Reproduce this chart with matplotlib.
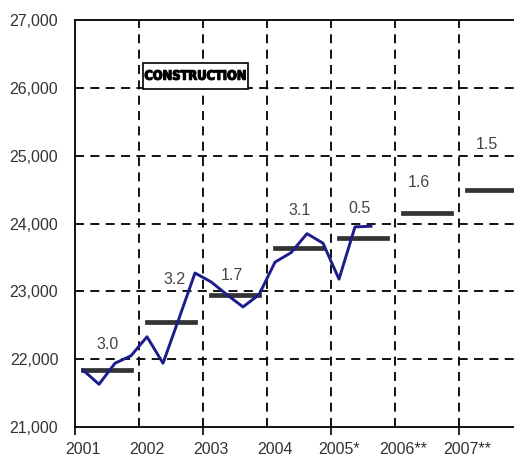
import matplotlib
matplotlib.use("Agg")
import matplotlib.pyplot as plt
import matplotlib.patheffects as pe
from matplotlib.patches import Rectangle
import numpy as np

# Quarterly series, 2001Q1 .. 2005Q3
quarter_values = [21840, 21630, 21940, 22050,
                  22330, 21940, 22600, 23270,
                  23140, 22950, 22770, 22950,
                  23430, 23570, 23850, 23710,
                  23180, 23950, 23960]

# Annual averages and growth rates (%)
years = ["2001", "2002", "2003", "2004", "2005*", "2006**", "2007**"]
annual_values = [21840, 22550, 22950, 23640, 23780, 24160, 24490]
growth = [3.0, 3.2, 1.7, 3.1, 0.5, 1.6, 1.5]
# label anchor (quarter position, value) for each growth figure
growth_pos = [(2.06, 22210), (6.25, 23180), (9.8, 23240), (14.06, 24190),
              (17.8, 24215), (21.5, 24600), (25.75, 25160)]

Q_PER_YEAR = 4
TXT = "#333333"

plt.rcParams["font.family"] = ["Liberation Sans", "DejaVu Sans"]

fig = plt.figure(figsize=(5.14, 4.61), dpi=100)
ax = fig.add_axes([75 / 514, 34 / 461, 439 / 514, 407 / 461])

n_years = len(years)
xlim_right = 439 / 16

# year boundaries as dashed verticals, value grid as dashed horizontals
for k in range(1, n_years):
    ax.axvline(k * Q_PER_YEAR, color="black", lw=1.3, ls=(0, (5, 3.5)), zorder=1)
for v in range(22000, 27000, 1000):
    ax.axhline(v, color="black", lw=1.3, ls=(0, (5, 3.5)), zorder=1)

# annual average bars
for i, val in enumerate(annual_values):
    x0 = i * Q_PER_YEAR + 0.5
    x1 = i * Q_PER_YEAR + Q_PER_YEAR - 0.5
    ax.plot([x0, x1], [val, val], color="#333333", lw=3.4,
            solid_capstyle="projecting", zorder=2)

# quarterly line
qx = np.arange(len(quarter_values)) + 0.5
ax.plot(qx, quarter_values, color="#1c1c8a", lw=2.1, zorder=3)

for g, (gx, gy) in zip(growth, growth_pos):
    ax.text(gx, gy, f"{g:.1f}", ha="center", va="center",
            fontsize=11.5, color="#444444", zorder=4)

# sector title box
ax.add_patch(Rectangle((0.155, 0.830), 0.239, 0.064, transform=ax.transAxes,
                       fc="white", ec="black", lw=1.2, zorder=5))
ax.text(0.155 + 0.239 / 2, 0.830 + 0.064 / 2, "CONSTRUCTION",
        transform=ax.transAxes, ha="center", va="center",
        fontsize=9.2, fontweight="heavy", fontstretch="condensed",
        color="black", family=["DejaVu Sans"], zorder=6,
        path_effects=[pe.withStroke(linewidth=0.9, foreground="black")])

ax.set_xlim(0, xlim_right)
ax.set_ylim(21000, 27000)

ax.set_yticks(range(21000, 27001, 1000))
ax.set_yticklabels([f"{v:,}" for v in range(21000, 27001, 1000)])
ax.tick_params(axis="y", length=0, pad=12, labelsize=11.5, labelcolor=TXT)

ax.set_xticks(np.arange(0, n_years * Q_PER_YEAR, 2 * Q_PER_YEAR))
ax.set_xticklabels([])
ax.tick_params(axis="x", which="major", length=6, width=1.2, direction="out")
ax.set_xticks(np.arange(n_years) * Q_PER_YEAR + 0.5, minor=True)
ax.set_xticklabels(years, minor=True)
ax.tick_params(axis="x", which="minor", length=0, pad=11, labelsize=11.5,
               labelcolor=TXT)

for side in ["left", "bottom", "top"]:
    ax.spines[side].set_linewidth(1.3)
ax.spines["right"].set_visible(False)

fig.savefig("out.png", dpi=100)
